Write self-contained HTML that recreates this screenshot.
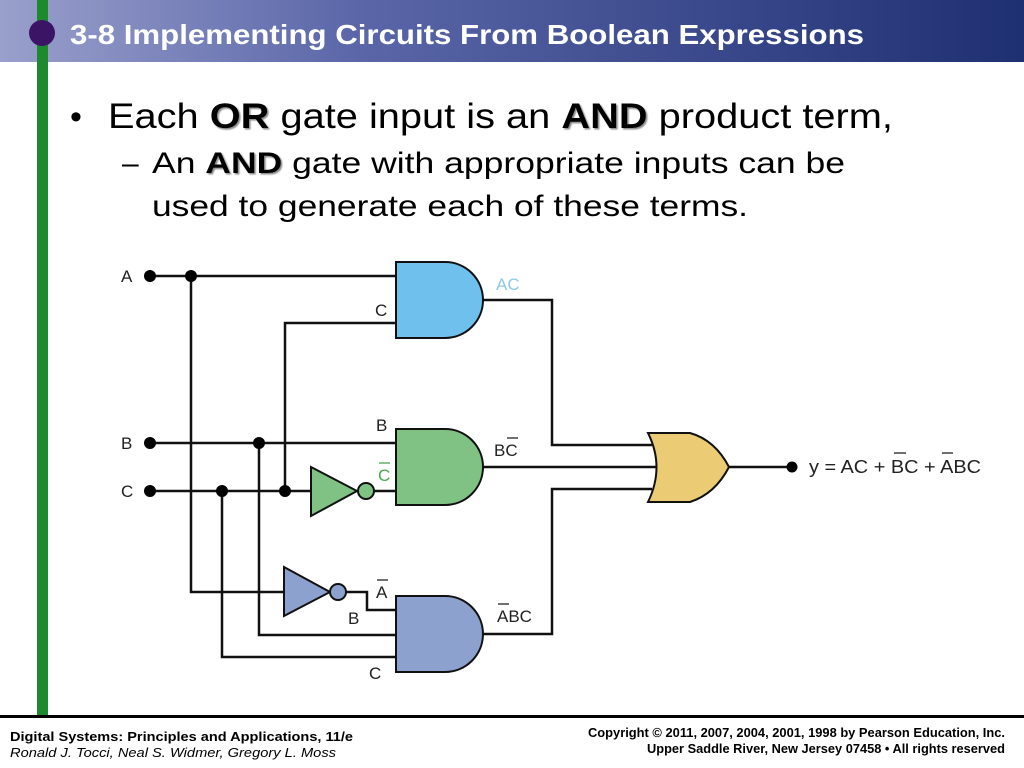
<!DOCTYPE html>
<html><head><meta charset="utf-8"><style>
body{margin:0;width:1024px;height:768px;overflow:hidden;background:#fff;}
svg, svg text{font-family:"Liberation Sans",Arial,sans-serif;}
</style></head><body>
<svg width="1024" height="768" xmlns="http://www.w3.org/2000/svg" font-family="Liberation Sans, Arial, sans-serif" style="position:absolute;left:0;top:0">
<defs>
<linearGradient id="tg" x1="0" x2="1" y1="0" y2="0">
<stop offset="0" stop-color="#9aa0cc"/><stop offset="0.35" stop-color="#5a66a8"/><stop offset="1" stop-color="#1e2f72"/></linearGradient>
<filter id="sh"><feDropShadow dx="1.5" dy="1.5" stdDeviation="0.8" flood-color="#888"/></filter>
</defs>
<rect x="0" y="0" width="1024" height="62" fill="url(#tg)"/>
<rect x="37" y="0" width="11" height="716" fill="#1e8a2e"/>
<circle cx="42" cy="33" r="13" fill="#3c1466"/>
<text x="70" y="44" fill="#fff" font-size="28" font-weight="bold" textLength="794" lengthAdjust="spacingAndGlyphs">3-8 Implementing Circuits From Boolean Expressions</text>
<rect x="0" y="715" width="1024" height="3" fill="#000"/>

<text x="70" y="128" font-size="34" fill="#000">•</text>
<text x="108" y="128" font-size="35" fill="#000" textLength="785" lengthAdjust="spacingAndGlyphs">Each <tspan font-weight="bold" filter="url(#sh)">OR</tspan> gate input is an <tspan font-weight="bold" filter="url(#sh)">AND</tspan> product term,</text>
<text x="122" y="173" font-size="30" fill="#000">–</text>
<text x="152" y="173" font-size="30" fill="#000" textLength="693" lengthAdjust="spacingAndGlyphs">An <tspan font-weight="bold" filter="url(#sh)">AND</tspan> gate with appropriate inputs can be</text>
<text x="152" y="216" font-size="30" fill="#000" textLength="596" lengthAdjust="spacingAndGlyphs">used to generate each of these terms.</text>

<g stroke="#111" stroke-width="2.5" fill="none">
<path d="M150 276H396"/>
<path d="M191 276V592H284"/>
<path d="M396 323H285V491"/>
<path d="M150 443H396"/>
<path d="M259 443V635H396"/>
<path d="M150 491H311"/>
<path d="M222 491V657H396"/>
<path d="M374 491H396"/>
<path d="M346 592H367V610H396"/>
<path d="M483 300H552V445H652"/>
<path d="M483 467H656"/>
<path d="M483 634H552V489H652"/>
<path d="M729 467H792"/>
</g>
<g fill="#000">
<circle cx="150" cy="276" r="6"/><circle cx="191" cy="276" r="6"/>
<circle cx="150" cy="443" r="6"/><circle cx="259" cy="443" r="6"/>
<circle cx="150" cy="491" r="6"/><circle cx="222" cy="491" r="6"/><circle cx="285" cy="491" r="6"/>
<circle cx="792" cy="467" r="5.5"/>
</g>
<g stroke="#111" stroke-width="2">
<path d="M396 262H445A38 38 0 0 1 445 338H396Z" fill="#6fc0ec"/>
<path d="M396 429H445A38 38 0 0 1 445 505H396Z" fill="#7fc284"/>
<path d="M396 596H445A38 38 0 0 1 445 672H396Z" fill="#8da1cf"/>
<path d="M311 467L357 491L311 516Z" fill="#7fc284"/>
<circle cx="366" cy="491" r="8" fill="#7fc284"/>
<path d="M284 567L330 592L284 616Z" fill="#8da1cf"/>
<circle cx="338" cy="592" r="8" fill="#8da1cf"/>
<path d="M648 433H690Q715 440 729 467Q715 494 690 502H648Q665 467 648 433Z" fill="#ebcc75"/>
</g>
<g font-size="17" fill="#222">
<text x="121" y="282">A</text><text x="121" y="449">B</text><text x="121" y="497">C</text>
<text x="375" y="316">C</text><text x="376" y="431">B</text>
<text x="378" y="481" fill="#4aa850">C</text><line x1="379" y1="463" x2="390" y2="463" stroke="#4aa850" stroke-width="1.3"/>
<text x="376" y="598">A</text><line x1="377" y1="580" x2="388" y2="580" stroke="#222" stroke-width="1.3"/>
<text x="348" y="624">B</text><text x="369" y="679">C</text>
<text x="496" y="290" fill="#8ccbe6">AC</text>
<text x="494" y="456">BC</text><line x1="507" y1="438" x2="518" y2="438" stroke="#222" stroke-width="1.3"/>
<text x="497" y="622">ABC</text><line x1="498" y1="604" x2="509" y2="604" stroke="#222" stroke-width="1.3"/>
<text x="809" y="473" font-size="18" textLength="172" lengthAdjust="spacingAndGlyphs">y = AC + BC + ABC</text>
<line x1="894" y1="453" x2="906" y2="453" stroke="#222" stroke-width="1.3"/>
<line x1="942" y1="453" x2="953" y2="453" stroke="#222" stroke-width="1.3"/>
</g>
<text x="10" y="741" font-size="13" font-weight="bold" textLength="343" lengthAdjust="spacingAndGlyphs">Digital Systems: Principles and Applications, 11/e</text>
<text x="10" y="757" font-size="13" font-style="italic" textLength="326" lengthAdjust="spacingAndGlyphs">Ronald J. Tocci, Neal S. Widmer, Gregory L. Moss</text>
<text x="1005" y="737" font-size="12.5" font-weight="bold" text-anchor="end" textLength="417" lengthAdjust="spacingAndGlyphs">Copyright © 2011, 2007, 2004, 2001, 1998  by Pearson Education, Inc.</text>
<text x="1005" y="753" font-size="12.5" font-weight="bold" text-anchor="end" textLength="358" lengthAdjust="spacingAndGlyphs">Upper Saddle River, New Jersey 07458 • All rights reserved</text>
</svg>
</body></html>
